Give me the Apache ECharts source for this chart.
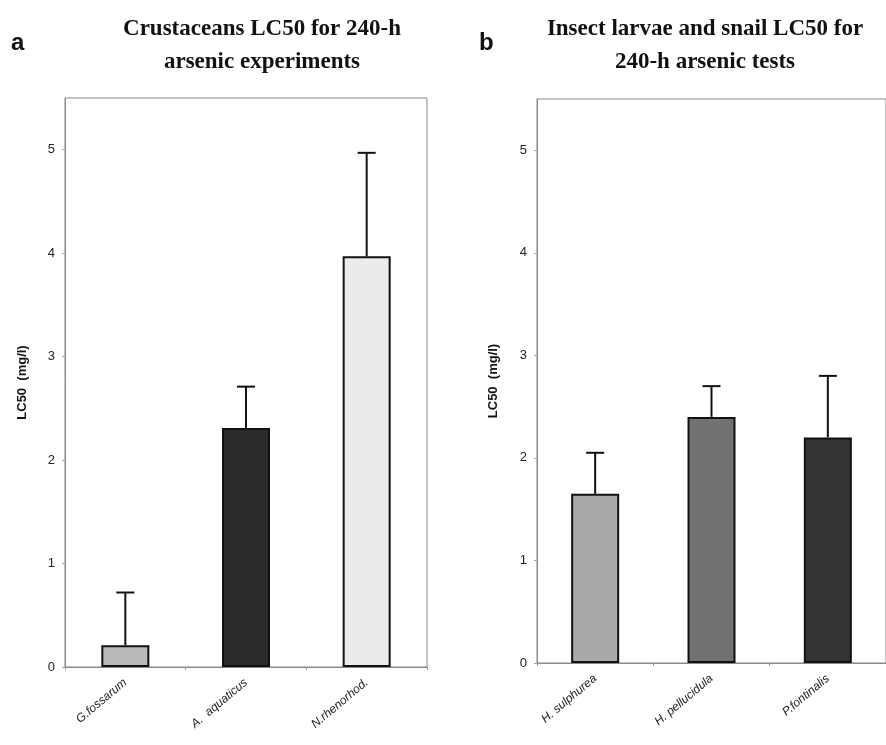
<!DOCTYPE html>
<html>
<head>
<meta charset="utf-8">
<script src="https://cdn.jsdelivr.net/npm/echarts@6/dist/echarts.min.js"></script>
<style>
  html, body { margin: 0; padding: 0; background: #fff; }
  #chart { width: 886px; height: 745px; }
</style>
</head>
<body>
<div id="chart"></div>
<script>
  // panel a - crustaceans
  var crustCats = ['G.fossarum', 'A.  aquaticus', 'N.rhenorhod.'];
  var crustLC50 = [0.21, 2.31, 3.97];
  var crustUpper = [0.72, 2.71, 4.97];
  // panel b - insect larvae and snail
  var insectCats = ['H. sulphurea', 'H. pellucidula', 'P.fontinalis'];
  var insectLC50 = [1.65, 2.40, 2.20];
  var insectUpper = [2.05, 2.70, 2.80];
  // y axis
  var yMin = 0, yMax = 5.5, yStep = 1;

  var crustColors = ['#b9b9b9', '#2b2b2b', '#ebebeb'];
  var insectColors = ['#a9a9a9', '#727272', '#333333'];

  var myChart = echarts.init(document.getElementById('chart'));

  // upper error bar only
  function errBar(params, api) {
    var lo = api.coord([api.value(0), api.value(1)]);
    var hi = api.coord([api.value(0), api.value(2)]);
    return {
      type: 'group',
      children: [
        { type: 'line', shape: { x1: lo[0], y1: lo[1], x2: hi[0], y2: hi[1] }, style: { stroke: '#111', lineWidth: 2 } },
        { type: 'line', shape: { x1: hi[0] - 9, y1: hi[1], x2: hi[0] + 9, y2: hi[1] }, style: { stroke: '#111', lineWidth: 2 } }
      ]
    };
  }

  function xAxisOf(idx, cats) {
    return {
      type: 'category', gridIndex: idx, data: cats,
      axisLine: { lineStyle: { color: '#8a8a8a', width: 1 } },
      axisTick: { show: true, length: 3, lineStyle: { color: '#999' } },
      axisLabel: {
        interval: 0, rotate: 40, margin: 14,
        fontFamily: 'Liberation Sans', fontStyle: 'italic', fontSize: 12, color: '#222'
      }
    };
  }

  function yAxisOf(idx, gap) {
    return {
      type: 'value', gridIndex: idx, min: yMin, max: yMax, interval: yStep,
      name: 'LC50  (mg/l)', nameLocation: 'middle', nameGap: gap, nameRotate: 90,
      nameTextStyle: { fontFamily: 'Liberation Sans', fontWeight: 'bold', fontSize: 13, color: '#111' },
      axisLine: { show: true, lineStyle: { color: '#8a8a8a', width: 1 } },
      axisTick: { show: true, length: 3, lineStyle: { color: '#aaa' } },
      splitLine: { show: false },
      axisLabel: {
        showMaxLabel: false, margin: 10,
        fontFamily: 'Liberation Sans', fontSize: 13, color: '#222'
      }
    };
  }

  function barsOf(vals, colors) {
    return vals.map(function (v, i) {
      return { value: v, itemStyle: { color: colors[i] } };
    });
  }

  function errOf(vals, upper) {
    return vals.map(function (v, i) { return [i, v, upper[i]]; });
  }

  var titleFont = { fontFamily: 'Liberation Serif', fontWeight: 'bold', fontSize: 23, lineHeight: 33, color: '#111' };
  var letterFont = { fontFamily: 'Liberation Sans', fontWeight: 'bold', fontSize: 24, color: '#111' };

  myChart.setOption({
    backgroundColor: '#fff',
    animation: false,
    title: [
      { text: 'Crustaceans LC50 for 240-h\narsenic experiments', left: 257, top: 8, textAlign: 'center', textStyle: titleFont },
      { text: 'Insect larvae and snail LC50 for\n240-h arsenic tests', left: 700, top: 8, textAlign: 'center', textStyle: titleFont },
      { text: 'a', left: 6, top: 26, textStyle: letterFont },
      { text: 'b', left: 474, top: 26, textStyle: letterFont }
    ],
    grid: [
      { left: 65, right: 459, top: 98, bottom: 78, show: true, borderColor: '#8a8a8a', borderWidth: 1 },
      { left: 537, right: -2, top: 99, bottom: 82, show: true, borderColor: '#8a8a8a', borderWidth: 1 }
    ],
    xAxis: [xAxisOf(0, crustCats), xAxisOf(1, insectCats)],
    yAxis: [yAxisOf(0, 36), yAxisOf(1, 37)],
    series: [
      {
        type: 'bar', xAxisIndex: 0, yAxisIndex: 0, barWidth: 48,
        itemStyle: { borderColor: '#111', borderWidth: 2 },
        data: barsOf(crustLC50, crustColors)
      },
      { type: 'custom', xAxisIndex: 0, yAxisIndex: 0, z: 3, renderItem: errBar, data: errOf(crustLC50, crustUpper) },
      {
        type: 'bar', xAxisIndex: 1, yAxisIndex: 1, barWidth: 48,
        itemStyle: { borderColor: '#111', borderWidth: 2 },
        data: barsOf(insectLC50, insectColors)
      },
      { type: 'custom', xAxisIndex: 1, yAxisIndex: 1, z: 3, renderItem: errBar, data: errOf(insectLC50, insectUpper) }
    ]
  });
</script>
</body>
</html>
